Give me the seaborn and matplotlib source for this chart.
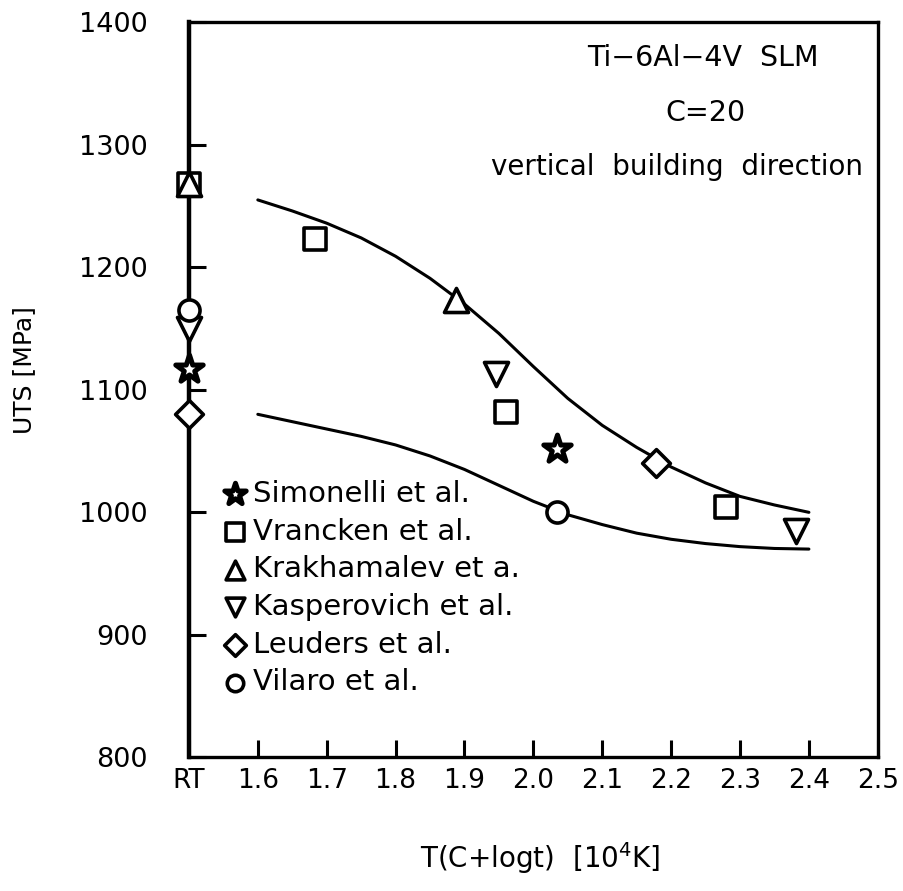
import numpy as np
import pandas as pd
import seaborn as sns
import matplotlib
matplotlib.use("Agg")
import matplotlib.pyplot as plt

# Larson-Miller type parameter T(C+log t) [10^4 K]; RT points sit at the left edge (1.5)
sources = ["Simonelli et al.", "Vrancken et al.", "Krakhamalev et a.",
           "Kasperovich et al.", "Leuders et al.", "Vilaro et al."]
markers = ["*", "s", "^", "v", "D", "o"]
marker_sizes = [430, 260, 300, 300, 200, 230]
edge_widths = [3.6, 2.6, 2.6, 2.6, 2.6, 2.6]

simonelli_T = [1.5, 2.035]
simonelli_uts = [1117, 1052]
vrancken_T = [1.5, 1.683, 1.961, 2.280]
vrancken_uts = [1268, 1223, 1082, 1004]
krakhamalev_T = [1.5, 1.888]
krakhamalev_uts = [1268, 1173]
kasperovich_T = [1.5, 1.946, 2.381]
kasperovich_uts = [1150, 1113, 985]
leuders_T = [1.5, 2.178]
leuders_uts = [1080, 1040]
vilaro_T = [1.5, 2.035]
vilaro_uts = [1165, 1000]

# Fitted trend curves (upper and lower bounds)
curve_T = [1.60, 1.65, 1.70, 1.75, 1.80, 1.85, 1.90, 1.95, 2.00,
           2.05, 2.10, 2.15, 2.20, 2.25, 2.30, 2.35, 2.40]
upper_uts = [1255, 1246, 1236, 1224, 1209, 1191, 1170, 1146, 1119,
             1093, 1071, 1053, 1037, 1024, 1013, 1006, 1000]
lower_uts = [1080, 1074, 1068, 1062, 1055, 1046, 1035, 1022, 1009,
             998, 990, 983, 978, 974.5, 972, 970.5, 970]

x_ticks = [1.5, 1.6, 1.7, 1.8, 1.9, 2.0, 2.1, 2.2, 2.3, 2.4, 2.5]
x_labels = ["RT", "1.6", "1.7", "1.8", "1.9", "2.0", "2.1", "2.2", "2.3", "2.4", "2.5"]
y_ticks = [800, 900, 1000, 1100, 1200, 1300, 1400]

series = [(simonelli_T, simonelli_uts), (vrancken_T, vrancken_uts),
          (krakhamalev_T, krakhamalev_uts), (kasperovich_T, kasperovich_uts),
          (leuders_T, leuders_uts), (vilaro_T, vilaro_uts)]

sns.set_style("white")
plt.rcParams["font.family"] = ["DejaVu Sans"]
plt.rcParams["mathtext.fontset"] = "dejavusans"
plt.rcParams["text.color"] = "black"
plt.rcParams["axes.labelcolor"] = "black"

fig = plt.figure(figsize=(9.04, 8.91), dpi=100)
ax = fig.add_axes([0.209, 0.150, 0.762, 0.825])

curves = pd.DataFrame({"T": curve_T * 2,
                       "UTS": upper_uts + lower_uts,
                       "curve": ["upper"] * len(curve_T) + ["lower"] * len(curve_T)})
sns.lineplot(data=curves, x="T", y="UTS", units="curve", estimator=None,
             color="black", linewidth=2.2, ax=ax, legend=False)

for name, mk, sz, ew, (xs, ys) in zip(sources, markers, marker_sizes, edge_widths, series):
    df = pd.DataFrame({"T": xs, "UTS": ys})
    sns.scatterplot(data=df, x="T", y="UTS", marker=mk, s=sz,
                    facecolor="white", edgecolor="black", linewidth=ew,
                    ax=ax, label=name, clip_on=False, zorder=5)

ax.set_xlim(1.5, 2.5)
ax.set_ylim(800, 1400)
ax.set_xticks(x_ticks)
ax.set_xticklabels(x_labels)
ax.set_yticks(y_ticks)

for side in ["top", "bottom", "right"]:
    ax.spines[side].set_linewidth(2.4)
    ax.spines[side].set_color("black")
ax.spines["left"].set_linewidth(3.2)
ax.spines["left"].set_color("black")

ax.tick_params(axis="x", direction="in", length=12, width=2.2, bottom=True,
               top=False, labelsize=19, pad=8, colors="black")
ax.tick_params(axis="y", direction="in", length=12, width=2.2, left=True,
               right=False, labelsize=19.5, pad=30, colors="black")

ax.set_xlabel("T(C+logt)  [10$^{4}$K]", fontsize=20)
ax.set_ylabel("UTS [MPa]", fontsize=18)
ax.xaxis.set_label_coords(0.51, -0.113)
ax.yaxis.set_label_coords(-0.222, 0.527)

ax.text(2.246, 1371, "Ti\u22126Al\u22124V  SLM", ha="center", va="center", fontsize=20.5)
ax.text(2.250, 1326, "C=20", ha="center", va="center", fontsize=20.5)
ax.text(2.208, 1282, "vertical  building  direction", ha="center", va="center", fontsize=20)

leg = ax.legend(loc="upper left", bbox_to_anchor=(0.025, 0.393), frameon=False,
                fontsize=21, handletextpad=0.0, handlelength=1.2,
                labelspacing=0.33, markerscale=0.78, borderaxespad=0.0)
for txt in leg.get_texts():
    txt.set_color("black")

fig.savefig("out.png", dpi=100, facecolor="white")
